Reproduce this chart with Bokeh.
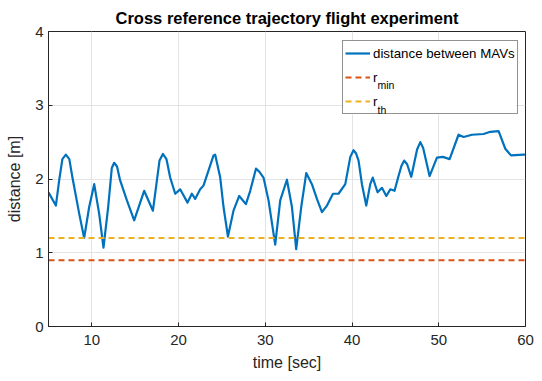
from bokeh.plotting import figure
from bokeh.models import (Range1d, FixedTicker, Legend, LegendItem)
from bokeh.core.properties import value
from bokeh.embed import file_html
from bokeh.resources import INLINE

# ---- data ----
time_s = [5.0, 5.85, 6.23, 6.60, 7.00, 7.40, 7.76, 8.54, 9.11, 9.69, 10.27, 10.84, 11.34,
          11.88, 12.30, 12.57, 12.90, 13.26, 14.04, 14.88, 16.03, 17.04, 17.80, 18.19,
          18.60, 19.03, 19.61, 20.18, 21.03, 21.53, 21.91, 22.49, 22.87, 24.03, 24.22,
          24.80, 25.18, 25.69, 26.33, 26.99, 27.76, 28.26, 28.92, 29.30, 29.79, 30.37,
          31.14, 31.72, 32.49, 33.07, 33.56, 34.14, 34.72, 35.37, 35.95, 36.53, 37.11,
          37.80, 38.44, 39.22, 39.80, 40.17, 40.45, 40.75, 41.14, 41.64, 42.10, 42.39,
          42.94, 43.45, 43.95, 44.41, 44.90, 45.36, 45.70, 46.02, 46.35, 46.83, 47.50,
          47.87, 48.20, 48.94, 49.79, 50.48, 51.25, 52.28, 52.86, 53.83, 55.17, 55.94,
          56.90, 57.67, 58.33, 59.78, 60.0]
distance_m = [1.82, 1.64, 1.98, 2.27, 2.33, 2.27, 2.02, 1.53, 1.20, 1.62, 1.93, 1.53, 1.07,
              1.62, 2.15, 2.22, 2.17, 1.98, 1.71, 1.44, 1.84, 1.57, 2.25, 2.34,
              2.27, 2.02, 1.80, 1.86, 1.68, 1.80, 1.73, 1.86, 1.91, 2.32, 2.33,
              2.02, 1.62, 1.22, 1.57, 1.77, 1.66, 1.84, 2.14, 2.10, 2.02, 1.71,
              1.11, 1.71, 1.99, 1.62, 1.05, 1.62, 2.08, 1.93, 1.73, 1.55, 1.64,
              1.80, 1.80, 1.93, 2.30, 2.39, 2.35, 2.25, 1.93, 1.64, 1.93, 2.02,
              1.82, 1.88, 1.77, 1.86, 1.84, 2.04, 2.18, 2.25, 2.20, 2.03, 2.40,
              2.50, 2.42, 2.04, 2.29, 2.30, 2.27, 2.60, 2.57, 2.60, 2.61, 2.64,
              2.65, 2.41, 2.32, 2.33, 2.33]
r_min = 0.9
r_th = 1.2
x_limits = [5, 60]
y_limits = [0, 4]
x_ticks = [10, 20, 30, 40, 50, 60]
y_ticks = [0, 1, 2, 3, 4]
legend_labels = ["distance between MAVs", "r", "r"]
subscripts = ["min", "th"]

BLUE = "#0072BD"
RED = "#D95319"
YELLOW = "#EDB120"
AX = "#262626"
FONT = "Liberation Sans"

W, H = 542, 381
BL, BR, BT, BB = 48, 17, 31, 55
FW, FH = W - BL - BR, H - BT - BB

p = figure(width=W, height=H, x_range=Range1d(*x_limits), y_range=Range1d(*y_limits),
           output_backend="svg", toolbar_location=None,
           min_border_left=BL, min_border_right=BR, min_border_top=BT, min_border_bottom=BB)

p.title.text = "Cross reference trajectory flight experiment"
p.title.align = "center"
p.title.text_font = FONT
p.title.text_font_size = "16.5px"
p.title.text_font_style = "bold"
p.title.text_color = "black"

p.outline_line_color = AX
p.outline_line_width = 1

for ax, ticks in ((p.xaxis[0], x_ticks), (p.yaxis[0], y_ticks)):
    ax.ticker = FixedTicker(ticks=ticks)
    ax.major_tick_in = 4
    ax.major_tick_out = 0
    ax.minor_tick_line_color = None
    ax.axis_line_color = AX
    ax.major_tick_line_color = AX
    ax.major_label_text_font = FONT
    ax.major_label_text_font_size = "15px"
    ax.major_label_text_color = AX
    ax.axis_label_text_font = FONT
    ax.axis_label_text_font_style = "normal"
    ax.axis_label_text_font_size = "16px"
    ax.axis_label_text_color = AX

p.xaxis.axis_label = "time [sec]"
p.xaxis.major_label_standoff = 8
p.xaxis.axis_label_standoff = 6
p.yaxis.axis_label = "distance [m]"
p.yaxis.major_label_standoff = 5
p.yaxis.axis_label_standoff = 9

p.xgrid.ticker = FixedTicker(ticks=x_ticks)
p.ygrid.ticker = FixedTicker(ticks=y_ticks)
p.xgrid.grid_line_color = "#e3e3e3"
p.ygrid.grid_line_color = "#e3e3e3"


def px_to_data(px, py):
    """frame pixel offsets (from bottom-left) -> data coordinates"""
    return (x_limits[0] + px * (x_limits[1] - x_limits[0]) / FW,
            y_limits[0] + py * (y_limits[1] - y_limits[0]) / FH)


# white backing for the legend box (hides grid lines), drawn as a glyph
LEG_L, LEG_B, LEG_R, LEG_T = 294, 212, 468, 286
l0, b0 = px_to_data(LEG_L, LEG_B)
r0, t0 = px_to_data(LEG_R, LEG_T)
p.quad(left=[l0], right=[r0], bottom=[b0], top=[t0], fill_color="white", line_color=None)

r_dist = p.line(time_s, distance_m, line_color=BLUE, line_width=2.2, line_join="round")
r_red = p.line(x_limits, [r_min, r_min], line_color=RED, line_width=2, line_dash="6 4")
r_yel = p.line(x_limits, [r_th, r_th], line_color=YELLOW, line_width=2, line_dash="6 4")

# subscripts of the legend entries (glyph level, visible through transparent legend)
for txt, py in zip(subscripts, (242, 217)):
    sx, sy = px_to_data(329, py)
    p.text(x=[sx], y=[sy], text=[txt], text_font=value(FONT), text_font_size="10.5px",
           text_color="black", text_baseline="alphabetic", text_align="left")

legend = Legend(items=[LegendItem(label=legend_labels[0], renderers=[r_dist]),
                       LegendItem(label=legend_labels[1], renderers=[r_red]),
                       LegendItem(label=legend_labels[2], renderers=[r_yel])],
                location=(LEG_L, LEG_B), padding=2, spacing=4, margin=0,
                glyph_width=25, glyph_height=20, label_height=20, label_standoff=3,
                label_text_font=FONT, label_text_font_size="13.3px", label_text_color="black",
                border_line_color=AX, border_line_width=1,
                background_fill_alpha=0)
p.add_layout(legend)

open("out.html", "w").write(file_html(p, INLINE))
